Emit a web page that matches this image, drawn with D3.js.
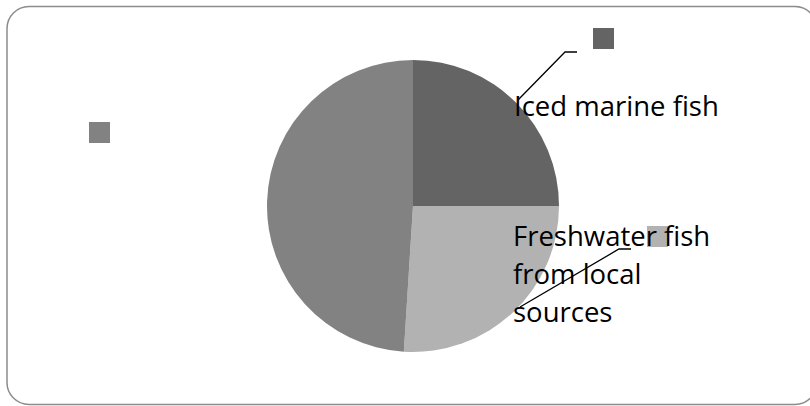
<!DOCTYPE html>
<html>
<head>
<meta charset="utf-8">
<script src="https://cdn.jsdelivr.net/npm/d3@7"></script>
<style>
  html, body { margin: 0; padding: 0; background: #fff; overflow: hidden; }
  svg { display: block; }
  text { font-family: "Open Sans", "Noto Sans", sans-serif; }
</style>
</head>
<body>
<svg id="chart" width="810" height="406"></svg>
<script>
// ---- data ----
const categories = ["Iced marine fish", "Freshwater fish from local sources", ""];
const values = [25, 26, 49];
const colors = ["#646464", "#b2b2b2", "#828282"];
const labelLines = [["Iced marine fish"], ["Freshwater fish", "from local", "sources"], []];

// ---- layout ----
const W = 810, H = 406;
const cx = 413, cy = 206, R = 146;
const svg = d3.select("#chart");

svg.append("rect")
  .attr("x", 7).attr("y", 6.5)
  .attr("width", 810).attr("height", 398)
  .attr("rx", 22).attr("ry", 22)
  .attr("fill", "#fff")
  .attr("stroke", "#8c8c8c").attr("stroke-width", 1.5);

const pie = d3.pie().sort(null).value(d => d)(values);
const arc = d3.arc().innerRadius(0).outerRadius(R);

const g = svg.append("g").attr("transform", `translate(${cx},${cy})`);
g.selectAll("path.slice").data(pie).join("path")
  .attr("class", "slice")
  .attr("d", arc)
  .attr("fill", (d, i) => colors[i]);

// label layout (relative to pie center)
const labelLayout = [
  { key: [180, -178], text: [101, -90], leader: [[105, -106], [152, -154], [164, -154]] },
  { key: [234, 20], text: [100, 40], leader: [[107, 101], [206, 43], [218, 43]] },
  { key: [-324, -84], text: null, leader: null }
];
const keySize = 21;
const lineH = 38;

labelLayout.forEach((L, i) => {
  if (L.leader) {
    g.append("path")
      .attr("d", d3.line()(L.leader))
      .attr("fill", "none")
      .attr("stroke", "#000").attr("stroke-width", 1.3);
  }
  g.append("rect")
    .attr("x", L.key[0]).attr("y", L.key[1])
    .attr("width", keySize).attr("height", keySize)
    .attr("fill", colors[i]);
  if (L.text) {
    const t = g.append("text")
      .attr("x", L.text[0]).attr("y", L.text[1])
      .attr("font-size", 27.5).attr("fill", "#000");
    labelLines[i].forEach((ln, j) => {
      t.append("tspan").attr("x", L.text[0]).attr("y", L.text[1] + j * lineH).text(ln);
    });
  }
});
</script>
</body>
</html>
